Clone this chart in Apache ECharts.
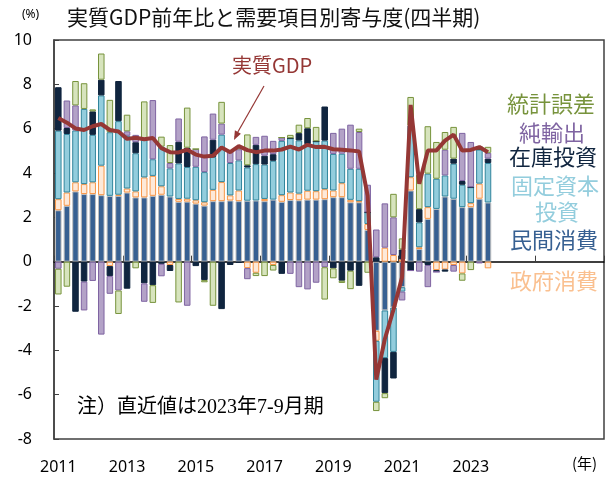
<!DOCTYPE html>
<html>
<head>
<meta charset="utf-8">
<script src="https://cdn.jsdelivr.net/npm/echarts@6/dist/echarts.min.js"></script>
<style>
  html, body { margin: 0; padding: 0; background: #fff; }
  #chart { width: 606px; height: 477px; }
</style>
</head>
<body>
<div id="chart"></div>
<script>
// quarterly categories 2011Q1 .. 2026Q4 (axis runs past the data)
const firstYear = 2011;
const lastYear = 2026;
const labelYears = ['2011', '2013', '2015', '2017', '2019', '2021', '2023'];

// contributions, 2011Q1 .. 2023Q3 (% pt)
const privateCons = [2.32, 2.52, 3.17, 3.05, 3.05, 3.0, 2.97, 2.97,
  3.12, 2.9, 2.9, 2.97, 3.02, 2.94, 2.7, 2.71,
  2.62, 2.53, 2.73, 2.73, 2.76, 2.73, 2.75, 2.76,
  2.73, 2.8, 2.7, 2.78, 2.77, 2.8, 2.8, 2.82,
  2.91, 2.91, 2.68, 2.68, 1.43, -3.12, -2.2, -2.07,
  -1.15, 3.21, 0.57, 1.93, 2.38, 2.94, 2.84, 2.46,
  2.46, 2.84, 2.67];
const govCons = [0.5, 0.6, 0.41, 0.45, 0.53, 1.33, -0.2, 0.05,
  0.18, 0.27, 0.9, 0.9, 0.38, -0.15, 0.13, 0.13,
  0.15, 0.15, 0.51, 0.86, 0.23, 0.48, -0.29, -0.5,
  0.1, -0.15, 0.3, 0.34, 0.3, 0.4, 0.38, 0.45,
  0.3, 0.63, 0.11, 0.05, 0.27, -0.45, 0.63, 0.3,
  0.1, 0.6, 0.08, 0.53, -0.38, -0.35, -0.15, -0.53,
  0.18, 0.68, -0.3];
const fixedInv = [3.09, 2.64, 2.34, 3.39, 2.14, 3.17, 2.87, 3.32,
  2.38, 1.72, 1.73, 0.75, 1.79, 1.27, 1.6, 1.43,
  1.51, 1.36, 1.48, 2.14, 1.46, 1.36, 1.5, 1.64,
  1.55, 1.75, 2.45, 2.45, 2.4, 2.1, 2.25, 2.19,
  1.65, 1.33, 1.4, 1.46, 0.53, -2.75, -2.15, -2.0,
  -0.2, 2.33, 1.12, 1.51, 1.36, 0.95, 1.58, 1.01,
  0.72, 1.54, 1.78];
const inventory = [1.96, 0.27, -2.26, -0.9, 1.06, 0.71, -0.45, 1.81,
  -1.22, 0.5, -0.98, -1.06, -0.1, -0.27, 0.98, 0.87,
  -0.2, -0.83, 0.78, -2.14, -0.15, -0.05, 0.1, 0.87,
  0.4, 0.3, -0.55, 0.0, 0.33, 0.72, 0.0, 1.54,
  -0.3, -0.86, -0.41, -1.09, 0.0, 0.2, -1.58, -1.2,
  0.45, -0.4, 0.6, -0.15, -0.08, -0.1, 0.23, 0.17,
  0.0, 0.0, 0.2];
const netExports = [-0.32, 1.24, 1.13, -1.3, -0.87, -3.29, -0.8, -1.3,
  0.2, 0.33, -0.83, 2.67, -0.56, 0.24, 1.05, -1.99,
  0.8, 1.61, 1.18, 0.5, 0.55, 0.5, -0.5, 0.36,
  0.9, 0.6, 0.15, -0.55, -1.15, -1.25, -0.95, -0.25,
  0.95, 1.13, 1.99, 1.66, 1.24, 1.25, 2.0, 1.7,
  -0.4, 0.0, -0.45, -1.0, 0.0, 1.16, -0.3, 2.17,
  2.04, -0.08, 0.26];
const statDiscrepancy = [-1.16, -1.13, 1.1, 1.16, 0.09, 1.18, 1.46, -1.06,
  0.75, -0.3, 1.7, -0.8, 0.45, 0.81, -1.84, 1.81,
  0.0, -0.1, -1.99, 0.98, 0.0, 0.12, 1.39, -0.15,
  -0.65, -0.25, 0.0, 0.15, 0.38, 0.46, 0.65, -1.46,
  -0.45, -0.1, -0.83, 0.15, -0.5, -0.42, -0.23, 1.06,
  0.5, 1.29, 1.55, 2.14, 1.66, 0.8, 1.43, -0.33,
  -0.38, 0.15, 0.27];
// real GDP, y/y %
const realGdp = [6.48, 6.27, 6.01, 5.94, 6.11, 6.21, 5.94, 5.87,
  5.54, 5.59, 5.52, 5.58, 5.12, 4.94, 4.93, 5.05,
  4.83, 4.74, 4.78, 5.15, 4.94, 5.21, 5.03, 4.94,
  5.01, 5.01, 5.06, 5.19, 5.06, 5.27, 5.17, 5.18,
  5.07, 5.05, 5.02, 4.97, 2.97, -5.32, -3.49, -2.17,
  -0.70, 7.07, 3.51, 5.02, 5.02, 5.46, 5.73, 5.01,
  5.04, 5.17, 4.94];

const quarters = [];
for (let y = firstYear; y <= lastYear; y++) {
  for (let q = 1; q <= 4; q++) quarters.push(y + '-' + q);
}

const jp = "'Noto Sans CJK JP', 'Noto Sans', sans-serif";
const num = "'Noto Sans', 'Noto Sans CJK JP', sans-serif";

function bar(name, data, fill, border) {
  return {
    name: name,
    type: 'bar',
    stack: 'total',
    stackStrategy: 'samesign',
    data: data,
    barCategoryGap: '24%',
    itemStyle: { color: fill, borderColor: border, borderWidth: 1 },
    emphasis: { disabled: true }
  };
}

// right-hand series names, written as plain text like the original
function label(text, x, y, color) {
  return {
    type: 'text', left: x, top: y,
    style: { text: text, fill: color, font: '22px ' + jp }
  };
}

const chart = echarts.init(document.getElementById('chart'));
chart.setOption({
  animation: false,
  grid: {
    left: 54, right: 2, top: 40, bottom: 38,
    show: true, borderColor: '#404040', borderWidth: 1.5
  },
  xAxis: [
    {
      type: 'category',
      data: quarters,
      axisLine: { onZero: true, lineStyle: { color: '#000', width: 1.5 } },
      axisTick: { show: true, inside: true, length: 6, interval: (i) => i % 8 === 0, lineStyle: { color: '#404040' } },
      axisLabel: { show: false },
      splitLine: { show: false }
    },
    {
      type: 'category',
      data: quarters,
      position: 'bottom',
      axisLine: { show: false, onZero: false },
      axisTick: { show: false },
      axisLabel: {
        interval: (i, v) => v.endsWith('-1') && labelYears.includes(v.slice(0, 4)),
        formatter: (v) => v.slice(0, 4),
        fontSize: 16, color: '#000', margin: 20, fontFamily: num
      }
    }
  ],
  yAxis: {
    type: 'value',
    min: -8, max: 10, interval: 2,
    axisLine: { show: true, lineStyle: { color: '#404040', width: 1.5 } },
    axisTick: { show: true, inside: true, length: 5, lineStyle: { color: '#404040' } },
    splitLine: { show: false },
    axisLabel: { fontSize: 16, color: '#000', margin: 22, fontFamily: num }
  },
  series: [
    bar('民間消費', privateCons, '#376092', '#bfbfbf'),
    bar('政府消費', govCons, '#fde9d9', '#f79646'),
    bar('固定資本投資', fixedInv, '#93cddd', '#31859c'),
    bar('在庫投資', inventory, '#10253f', '#0f243e'),
    bar('純輸出', netExports, '#b3a2c7', '#7f64a2'),
    bar('統計誤差', statDiscrepancy, '#d7e4bd', '#77933c'),
    {
      name: '実質GDP',
      type: 'line',
      data: realGdp,
      symbol: 'none',
      z: 5,
      lineStyle: { color: '#953735', width: 4 },
      emphasis: { disabled: true }
    }
  ],
  graphic: [
    { type: 'text', left: 67, top: 7, style: { text: '実質GDP前年比と需要項目別寄与度(四半期)', fill: '#111', font: '21px ' + jp } },
    { type: 'text', left: 22, top: 9, style: { text: '(%)', fill: '#000', font: '12px ' + num } },
    { type: 'text', left: 572, top: 456, style: { text: '(年)', fill: '#000', font: '15px ' + jp } },
    { type: 'text', left: 77, top: 398, style: { text: '注）直近値は2023年7-9月期', fill: '#000', font: "20px 'Liberation Serif', 'Noto Sans CJK JP', serif" } },
    { type: 'text', left: 232, top: 55, style: { text: '実質GDP', fill: '#953735', font: '20px ' + jp } },
    { type: 'line', shape: { x1: 264, y1: 86, x2: 235, y2: 137 }, style: { stroke: '#953735', lineWidth: 1.2 } },
    { type: 'polygon', shape: { points: [[234, 140], [240.9, 133.7], [234.9, 130.3]] }, style: { fill: '#953735' } },
    label('統計誤差', 507, 93, '#77933c'),
    label('純輸出', 519, 122, '#7f64a2'),
    label('在庫投資', 509, 146, '#10253f'),
    label('固定資本', 511, 175, '#93cddd'),
    label('投資', 535, 201, '#93cddd'),
    label('民間消費', 510, 229, '#376092'),
    label('政府消費', 510, 270, '#fac090')
  ]
});
</script>
</body>
</html>
